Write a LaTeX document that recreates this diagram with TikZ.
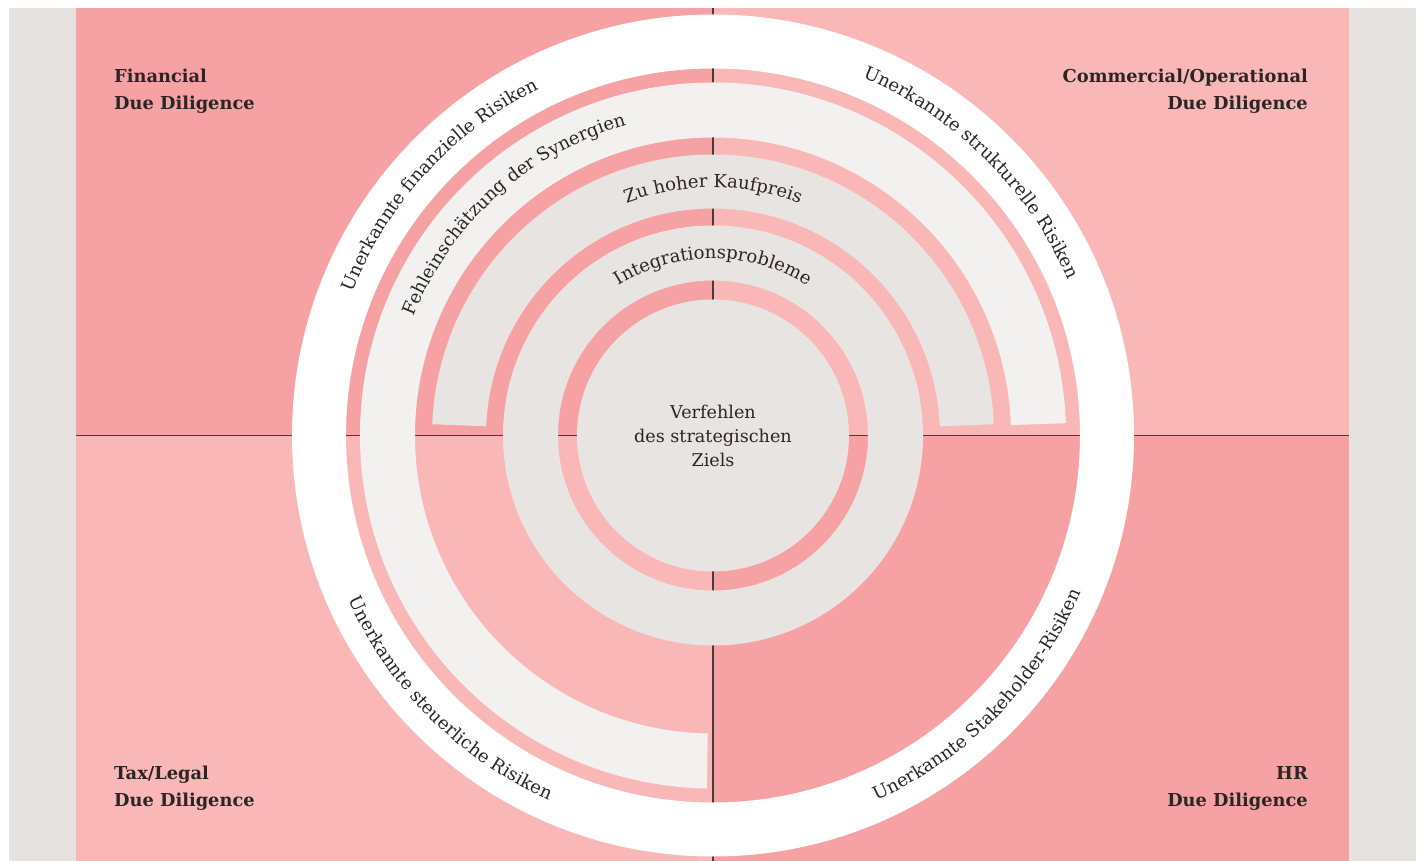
\documentclass[tikz,border=0pt]{standalone}
\usepackage{fontspec}
\setmainfont{DejaVu Serif}
\usetikzlibrary{decorations.text}

\definecolor{pinkdark}{HTML}{F6A1A3}
\definecolor{pinklight}{HTML}{F9B8B7}
\definecolor{framegray}{HTML}{E6E2DF}
\definecolor{arcpale}{HTML}{F3F1EF}
\definecolor{coregray}{HTML}{E8E4E1}
\definecolor{inktext}{HTML}{2B2526}
\definecolor{axisline}{HTML}{4A3A3B}

\newcommand\ringfont{\fontsize{18}{22}\selectfont}

\tikzset{
  quadlabel/.style={font=\bfseries\fontsize{17.8}{27}\selectfont, text=inktext, inner sep=0pt},
  corelabel/.style={font=\fontsize{17.6}{24}\selectfont, text=inktext, inner sep=0pt, align=center},
  ringtext/.style={decoration={text along path, text align=center,
      text={|\ringfont\color{inktext}|#1}}, decorate},
  axis/.style={draw=axisline, line width=1.5pt},
}

\begin{document}
\begin{tikzpicture}[x=1pt,y=1pt]
\useasboundingbox (-713,-425.5) rectangle (708,435.5);
\fill[white] (-713,-425.5) rectangle (708,435.5);
\fill[framegray] (-704,-425.5) rectangle (703,427.5);

% four due-diligence quadrants
\fill[pinkdark]  (-637,0) rectangle (0,427.5);
\fill[pinklight] (0,0) rectangle (636,427.5);
\fill[pinklight] (-637,-425.5) rectangle (0,0);
\fill[pinkdark]  (0,-425.5) rectangle (636,0);

% axes dividing the quadrants
\coordinate (top) at (0,427.5);
\coordinate (bottom) at (0,-425.5);
\coordinate (left) at (-637,0);
\coordinate (right) at (636,0);
\draw[axis] (top) -- (bottom);
\draw[axis] (left) -- (right);

% outer white ring
\fill[white, even odd rule] (0,0) circle[radius=421] (0,0) circle[radius=367];

% risk bands
\fill[arcpale] (2:353) arc[start angle=2, end angle=269, radius=353]
  -- (269:298) arc[start angle=269, end angle=2, radius=298] -- cycle;
\fill[coregray] (2.3:281) arc[start angle=2.3, end angle=177.7, radius=281]
  -- (177.7:227) arc[start angle=177.7, end angle=2.3, radius=227] -- cycle;
\fill[coregray, even odd rule] (0,0) circle[radius=210] (0,0) circle[radius=155];
\fill[coregray] (0,0) circle[radius=136];

% curved labels
\path[ringtext={Unerkannte finanzielle Risiken}] (167.5:388) arc[start angle=167.5, end angle=107.5, radius=388];
\path[ringtext={Unerkannte strukturelle Risiken}] (75.5:388) arc[start angle=75.5, end angle=15.5, radius=388];
\path[ringtext={Unerkannte steuerliche Risiken}] (195:400) arc[start angle=195, end angle=255, radius=400];
\path[ringtext={Unerkannte Stakeholder-Risiken}] (285.5:400) arc[start angle=285.5, end angle=345.5, radius=400];
\path[ringtext={Fehleinschätzung der Synergien}] (167:322) arc[start angle=167, end angle=97, radius=322];
\path[ringtext={Zu hoher Kaufpreis}] (130:248) arc[start angle=130, end angle=50, radius=248];
\path[ringtext={Integrationsprobleme}] (140:177) arc[start angle=140, end angle=40, radius=177];

% centre
\node[corelabel] (goal) at (0,0) {Verfehlen\\des strategischen\\Ziels};

% quadrant titles
\node[quadlabel, align=left, anchor=base west] (fin) at (-599,325.5) {Financial\\Due Diligence};
\node[quadlabel, align=right, anchor=base east] (com) at (595,325.5) {Commercial/Operational\\Due Diligence};
\node[quadlabel, align=left, anchor=base west] (tax) at (-599,-371) {Tax/Legal\\Due Diligence};
\node[quadlabel, align=right, anchor=base east] (hr) at (595,-371) {HR\\Due Diligence};
\end{tikzpicture}
\end{document}
